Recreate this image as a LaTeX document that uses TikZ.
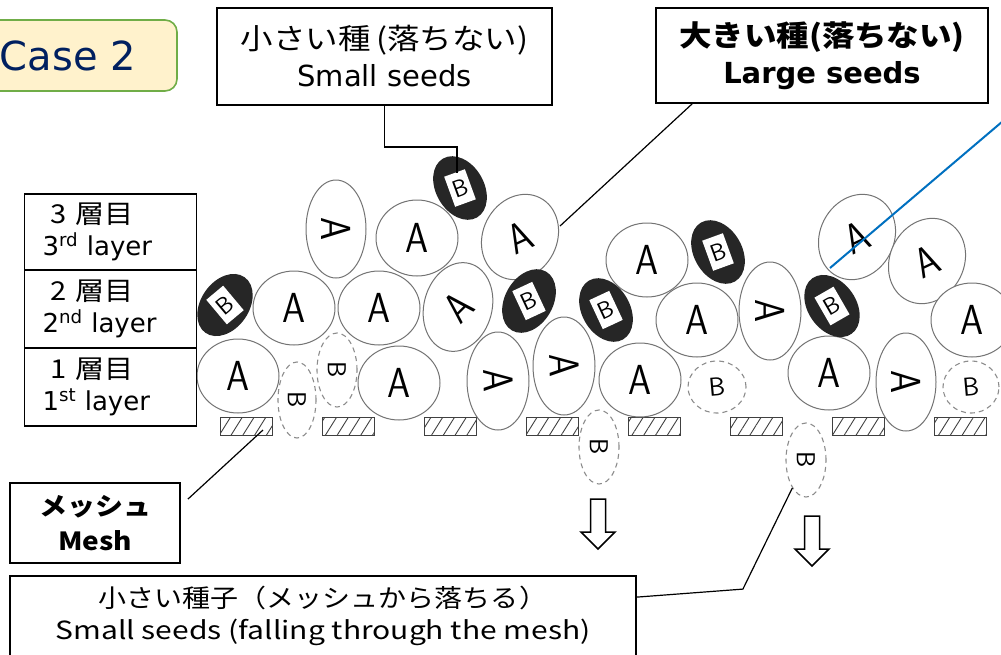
\documentclass[tikz,border=0pt]{standalone}
\usepackage{fontspec}
\setmainfont{DejaVu Sans}
\newfontfamily\jp{Noto Sans CJK JP}[FakeStretch=1.12]
\newfontfamily\jpw{Noto Sans CJK JP}[FakeStretch=1.2]
\usepackage{tikz}
\usetikzlibrary{calc,shapes,patterns.meta}

\definecolor{casefill}{RGB}{255,242,204}
\definecolor{caseline}{RGB}{112,173,71}
\definecolor{casetext}{RGB}{0,32,96}
\definecolor{pointer}{RGB}{0,112,192}

\tikzset{
  labelbox/.style={draw, line width=1.8pt, align=center, inner sep=0pt, fill=white},
  layerbox/.style={labelbox, align=left, text width=136, inner xsep=18pt, font=\fontsize{26}{32}\selectfont},
  seedA/.style={ellipse, draw=black!55, line width=1pt, fill=white, inner sep=0pt},
  seedB/.style={ellipse, fill=black!85, inner sep=0pt, minimum width=48, minimum height=68},
  seedBfall/.style={ellipse, draw=black!45, dash pattern=on 5pt off 4pt, line width=1.1pt, inner sep=0pt},
  tagB/.style={fill=white, inner sep=0pt, minimum width=22, minimum height=32, font=\sffamily\fontsize{24}{24}\selectfont},
  letterA/.style={inner sep=0pt, font=\sffamily\fontsize{42}{42}\selectfont},
  letterB/.style={inner sep=0pt, font=\sffamily\fontsize{26}{26}\selectfont},
  meshbar/.style={draw=black!75, line width=1pt, minimum width=52, minimum height=18, inner sep=0pt,
    pattern={Lines[angle=58,distance=10pt,line width=.9pt]}, pattern color=black!75},
}

\begin{document}
\begin{tikzpicture}[x=1pt, y=-1pt]
\useasboundingbox (0,0) rectangle (1001,654);

% seeds falling through (dashed)
\foreach \n/\x/\y/\w/\h/\t in {d1/297/400/38/76/-90, d2/337/370/40/74/-90, d3/599/447/40/74/-90,
    d4/717/387/58/52/5, d5/806/460/40/74/-90, d6/971/387/56/52/5}
{
  \node[seedBfall, minimum width=\w, minimum height=\h] (\n) at (\x,\y) {};
  \node[letterB, rotate=\t] at (\n) {B};
}

% mesh
\foreach \k in {1,...,8}
  \node[meshbar] (m\k) at ({144+102*\k},426) {};

% large seeds
\foreach \n/\x/\y/\w/\h/\r/\t in {
    a1/336/229/60/98/0/-90, a2/417/238/82/76/0/0, a3/520/237/74/88/-27/25,
    a4/647/260/82/74/0/0, a5/857/237/74/88/-27/25, a6/927/261/74/88/-27/25,
    a7/294/308/82/74/0/0, a8/379/308/82/74/0/0, a9/458/307/68/90/-15/45,
    a10/697/320/82/74/0/0, a11/770/311/62/98/0/-90, a12/972/320/82/74/0/0,
    a13/238/376/82/74/0/0, a14/399/383/82/74/0/0, a15/498/381/62/98/0/-88,
    a16/564/366/62/98/0/-88, a17/640/380/82/74/0/0, a18/829/373/82/74/0/0,
    a19/906/382/60/98/0/-90}
{
  \node[seedA, minimum width=\w, minimum height=\h, rotate=\r] (\n) at (\x,\y) {};
  \node[letterA, rotate=\t, xscale=.88] at (\n) {A};
}

% small seeds held back
\foreach \n/\x/\y/\r/\t in {b1/460/188/30/20, b2/718/252/30/20, b3/225/305/-35/40,
    b4/529/301/-30/25, b5/606/310/30/25, b6/832/306/35/30}
{
  \node[seedB, rotate=\r] (\n) at (\x,\y) {};
  \node[tagB, rotate=\t] at (\n) {B};
}

\foreach \x/\y in {598/499, 812/516}
  \draw[line width=1.5pt, fill=white] (\x-7.5,\y) -- ++(15,0) -- ++(0,33) -- ++(9.5,0)
    -- ++(-17,17) -- ++(-17,-17) -- ++(9.5,0) -- cycle;

\node[draw=caseline, fill=casefill, line width=1.6pt, rounded corners=12pt, minimum width=218,
  minimum height=71, text=casetext, font=\fontsize{40}{40}\selectfont] (case) at (68,55.5) {Case 2};

\node[labelbox, minimum width=335, minimum height=97, font=\fontsize{29}{37}\selectfont]
  (small) at (384.5,56.5) {{\jp 小さい種\hspace{6pt}(落ちない)}\\Small seeds};
\node[labelbox, minimum width=332, minimum height=95, font=\bfseries\fontsize{29}{37}\selectfont]
  (large) at (822,55.5) {{\jp 大きい種(落ちない)}\\Large seeds};

\node[layerbox, minimum height=76] (l3) at (110.5,232) {{\jp\hspace*{8pt}3 層目}\\3\textsuperscript{rd} layer};
\node[layerbox, minimum height=78] (l2) at (110.5,309) {{\jp\hspace*{8pt}2 層目}\\2\textsuperscript{nd} layer};
\node[layerbox, minimum height=78] (l1) at (110.5,387) {{\jp\hspace*{8pt}1 層目}\\1\textsuperscript{st} layer};

\node[labelbox, minimum width=170, minimum height=80, font=\jp\bfseries\fontsize{25}{35}\selectfont]
  (mesh) at (95,523) {メッシュ\\Mesh};
\node[labelbox, minimum width=626, minimum height=80, font=\fontsize{25}{32}\selectfont]
  (fall) at (323,616) {{\jp 小さい種子（メッシュから落ちる）}\\{\jpw Small seeds (falling through the mesh)}};

\draw[line width=1.2pt] (small.south) -- ++(0,41) -| ($(b1)+(-3,-15)$);
\draw[line width=1.2pt] ([xshift=37pt]large.south west) -- ($(a3)+(40,-11)$);
\draw[line width=1.2pt] ($(mesh.north east)+(7,17)$) -- ($(m1)+(17,4)$);
\draw[line width=1.2pt] ($(fall.north east)+(0,22)$) -- ++(106,-8) -- (d5);
\coordinate (bluetop) at (1003,121);
\draw[pointer, line width=2pt] (bluetop) -- ($(b6)+(-2,-38)$);
\end{tikzpicture}
\end{document}
